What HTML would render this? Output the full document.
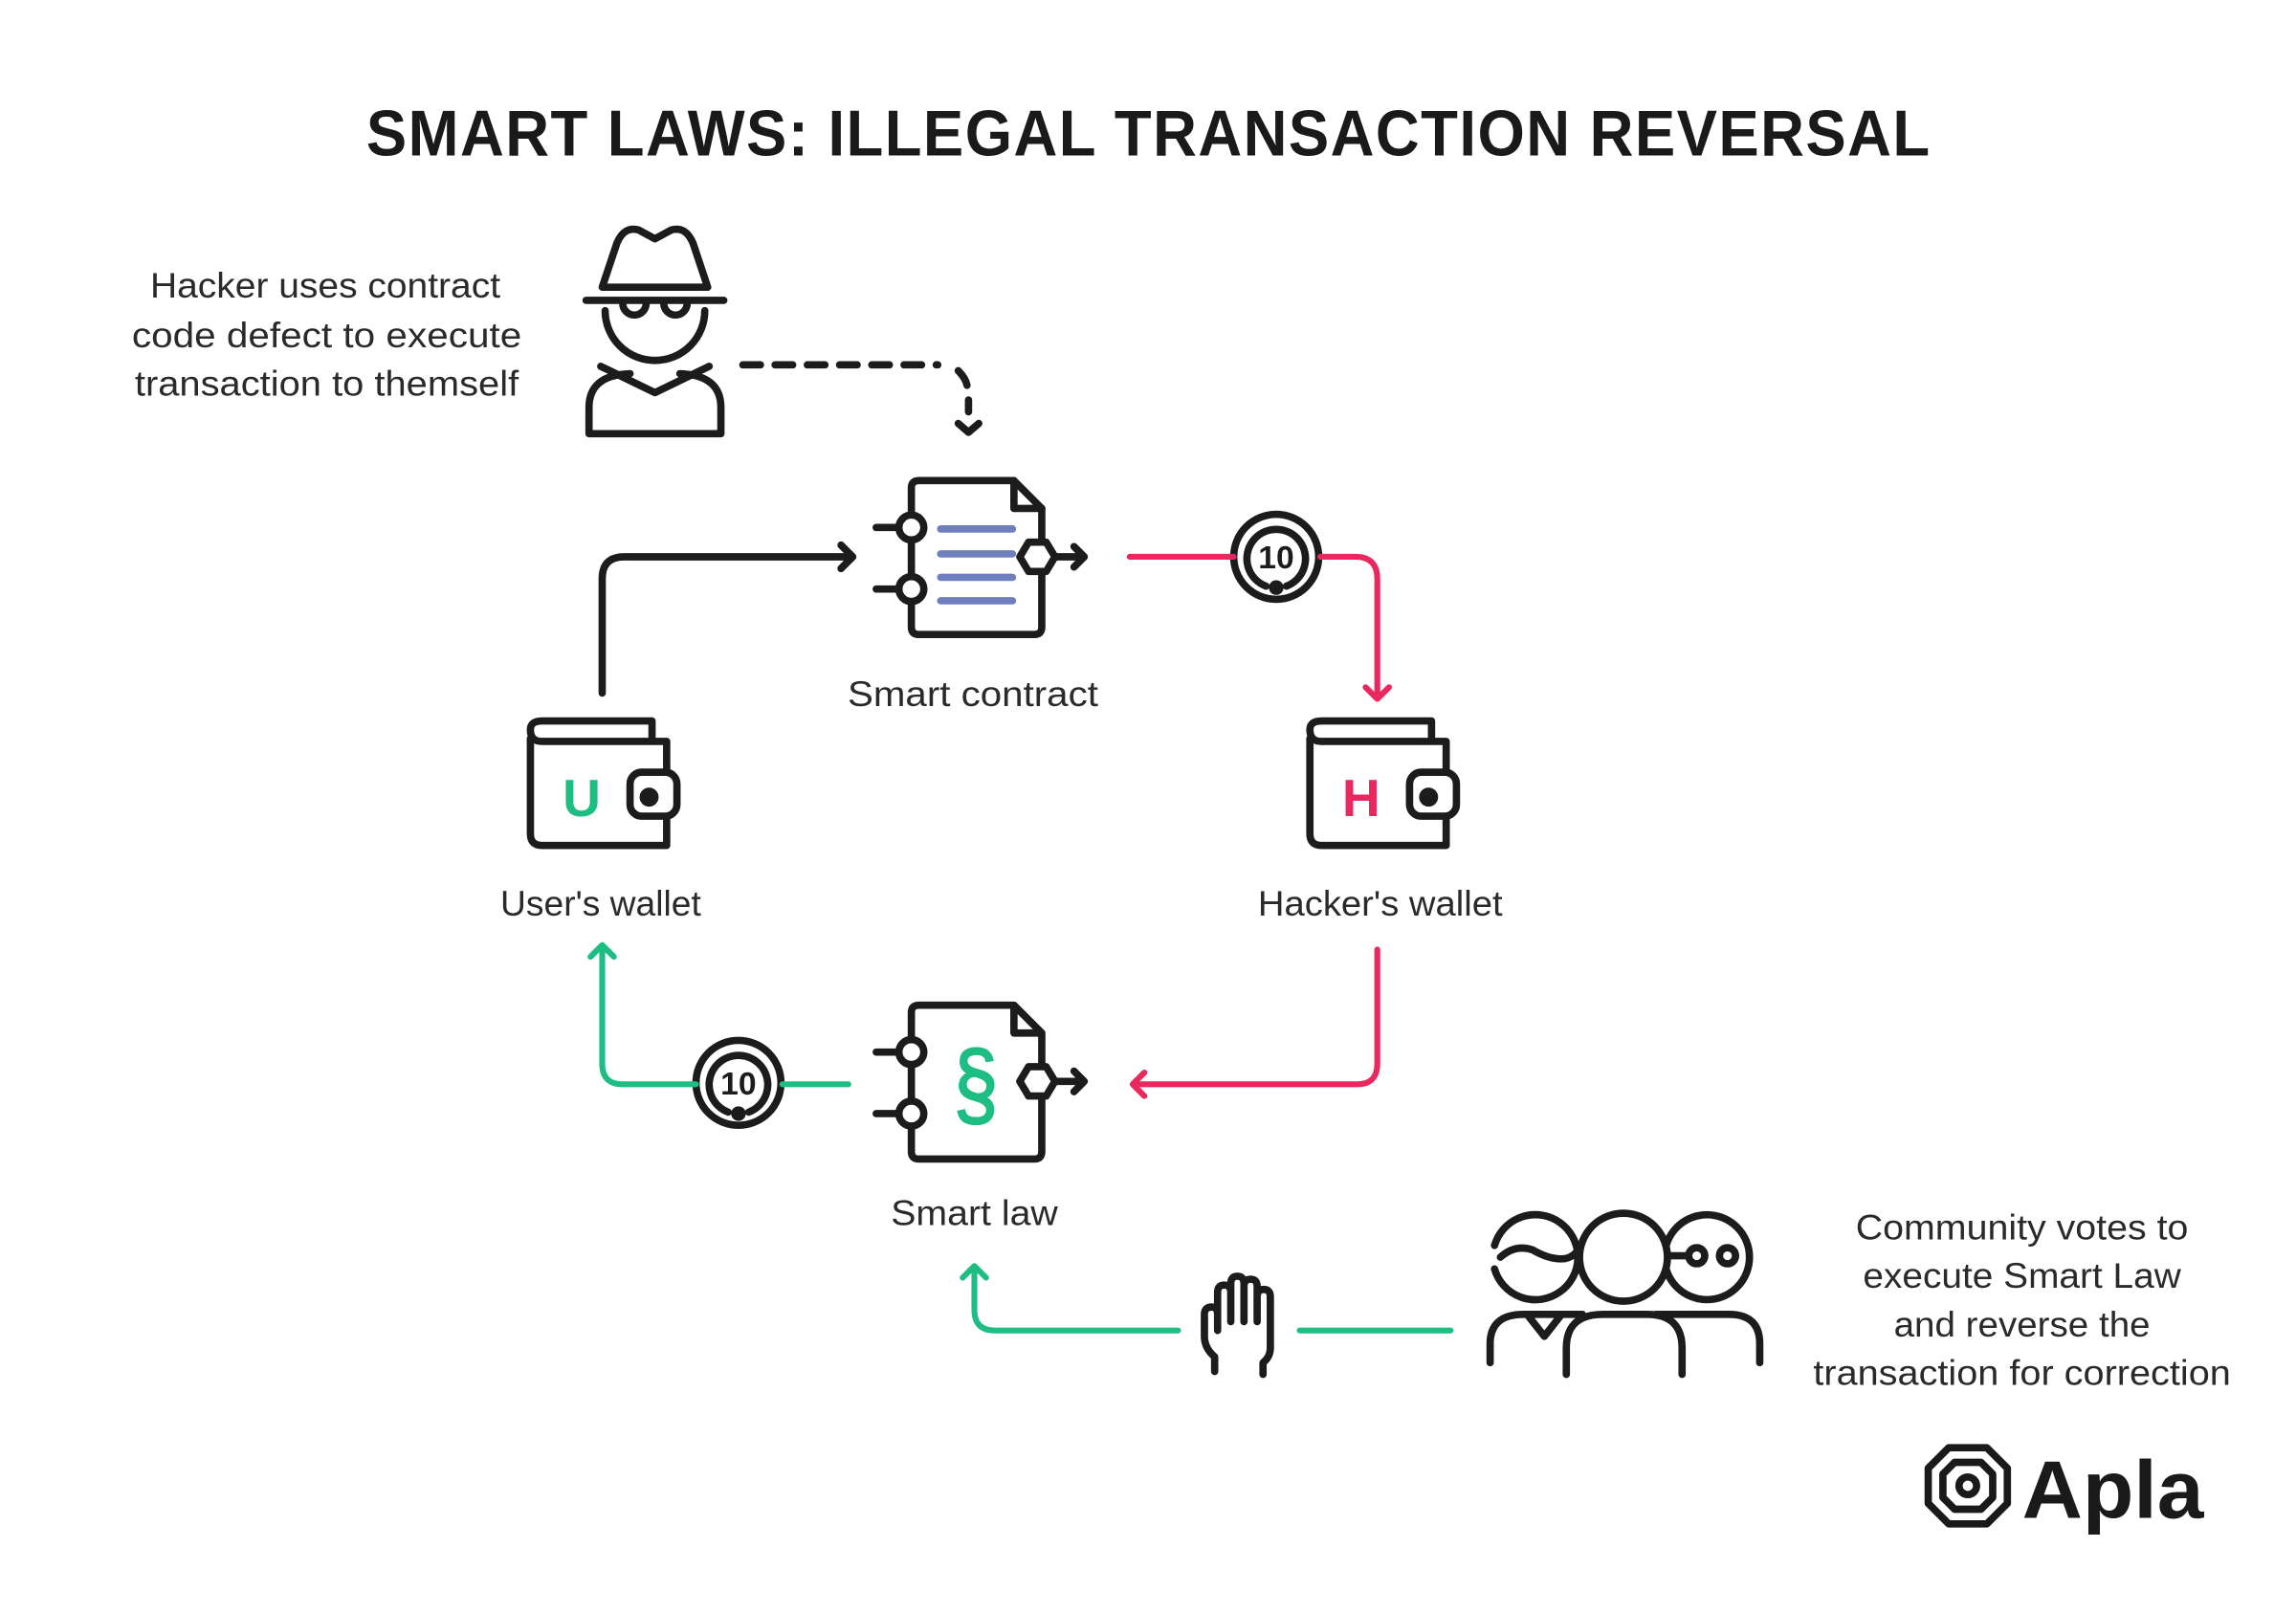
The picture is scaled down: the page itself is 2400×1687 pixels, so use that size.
<!DOCTYPE html>
<html><head><meta charset="utf-8"><style>
html,body{margin:0;padding:0;background:#fff}
svg{display:block}
text{font-family:"Liberation Sans",sans-serif}
</style></head><body>
<svg width="2400" height="1687" viewBox="0 0 1567 1101.5" preserveAspectRatio="none" xmlns="http://www.w3.org/2000/svg">
<rect width="1567" height="1102" fill="#fff"/>
<text x="784" y="106" text-anchor="middle" font-size="44" font-weight="bold" fill="#1a1a1a" textLength="1068" lengthAdjust="spacingAndGlyphs" letter-spacing="1">SMART LAWS: ILLEGAL TRANSACTION REVERSAL</text>

<g font-size="24" fill="#2a2a2a" text-anchor="middle">
<text x="222" y="203" textLength="239" lengthAdjust="spacingAndGlyphs">Hacker uses contract</text>
<text x="223" y="237" textLength="266" lengthAdjust="spacingAndGlyphs">code defect to execute</text>
<text x="223" y="270" textLength="262" lengthAdjust="spacingAndGlyphs">transaction to themself</text>
<text x="664" y="482" textLength="171" lengthAdjust="spacingAndGlyphs">Smart contract</text>
<text x="410" y="625" textLength="137" lengthAdjust="spacingAndGlyphs">User's wallet</text>
<text x="942" y="625" textLength="167" lengthAdjust="spacingAndGlyphs">Hacker's wallet</text>
<text x="665" y="836" textLength="114" lengthAdjust="spacingAndGlyphs">Smart law</text>
<text x="1380" y="846" textLength="227" lengthAdjust="spacingAndGlyphs">Community votes to</text>
<text x="1380" y="879" textLength="217" lengthAdjust="spacingAndGlyphs">execute Smart Law</text>
<text x="1380" y="912" textLength="175" lengthAdjust="spacingAndGlyphs">and reverse the</text>
<text x="1380" y="945" textLength="285" lengthAdjust="spacingAndGlyphs">transaction for correction</text>
</g>

<g fill="none" stroke="#1c1c1c" stroke-width="5" stroke-linecap="round" stroke-linejoin="round">
<path d="M411 196 L421 166 Q426 154 436 157 L447 163 L458 157 Q468 154 473 166 L483 196 Z"/>
<line x1="400" y1="205" x2="494" y2="205"/>
<path d="M425 207 a8 8 0 0 0 16 0 M453 207 a8 8 0 0 0 16 0"/>
<path d="M413 212 a34 34 0 0 0 68 0"/>
<path d="M410 250 L447 268 L484 250"/>
<path d="M402 296 L402 278 Q402 256 430 255 M492 296 L492 278 Q492 256 464 255 M402 296 L492 296"/>
<path d="M507 249 L640 249" stroke-dasharray="12 10"/>
<path d="M654 253 Q659 258 660 263"/>
<path d="M661 273 L661 281 M654 289 L661 295 L668 289"/>

<g id="doc">
<path d="M622 411 L622 428 Q622 433 627 433 L706 433 Q711 433 711 428 L711 392 M711 368 L711 347 L692 328 L627 328 Q622 328 622 333 L622 351 M622 369 L622 393"/>
<path d="M692 328 L692 347 L711 347"/>
<line x1="598" y1="360" x2="613" y2="360"/>
<line x1="598" y1="402" x2="613" y2="402"/>
<circle cx="622" cy="360" r="8.5"/>
<circle cx="622" cy="402" r="8.5"/>
<path d="M702 370 L714 370 L720 380 L714 390 L702 390 L696 380 Z" fill="#fff"/>
<path d="M721 380 L740 380 M733 373 L740 380 L733 387"/>
</g>
<use href="#doc" y="358"/>
<g id="wal">
<path d="M362 504 L362 569 Q362 577 370 577 L455 577 L455 558 M455 527 L455 506 L370 506 Q362 506 362 498 Q362 492 370 492 L445 492 L445 504"/>
<rect x="430" y="527" width="32" height="30" rx="8"/>
<circle cx="443" cy="544" r="4" fill="#1c1c1c"/>
</g>
<use href="#wal" x="532"/>
<path d="M411 473 L411 395 Q411 380 426 380 L582 380 M574 372 L582 380 L574 388"/>
<g id="coin">
<circle cx="871" cy="380" r="29"/>
<path d="M864 400 A20 20 0 1 1 878 400"/>
<circle cx="871" cy="401" r="2.5"/>
<text x="871" y="388" font-size="22" font-weight="bold" text-anchor="middle" fill="#1c1c1c" stroke="none">10</text>
</g>
<use href="#coin" x="-367" y="359"/>
<path d="M829 936 L829 926 Q822 920 822 912 L822 897 Q822 892 827 892 Q831 892 831 897 L831 908 M831 901 L831 882 Q831 877 835.5 877 Q840 877 840 882 L840 902 M840 882 L840 876 Q840 871 844.5 871 Q849 871 849 876 L849 902 M849 878 Q849 873 853.5 873 Q858 873 858 878 L858 902 M858 885 Q858 880 862.5 880 Q867 880 867 885 L867 920 Q867 926 862 930 L862 938"/>
<path d="M1020 850 A29 29 0 1 1 1020 866"/>
<path d="M1024 858 Q1034 849 1046 853 Q1058 860 1068 859 Q1074 858 1078 852"/>
<circle cx="1165" cy="858" r="29"/>
<path d="M1138 857 L1152 857"/>
<circle cx="1158" cy="857" r="5.5"/><circle cx="1179" cy="857" r="5.5"/>
<circle cx="1108" cy="858" r="30" fill="#fff"/>
<path d="M1017 930 L1017 917 Q1017 897 1040 897 L1080 897 M1043 898 L1054 912 L1065 898"/>
<path d="M1130 897 L1180 897 Q1201 897 1201 917 L1201 930"/>
<path d="M1069 938 L1069 920 Q1069 897 1094 897 L1124 897 Q1148 897 1148 920 L1148 938" fill="#fff"/>
</g>
<g stroke="#6f7fbd" stroke-width="5" stroke-linecap="round">
<line x1="642" y1="361" x2="691" y2="361"/>
<line x1="642" y1="378" x2="691" y2="378"/>
<line x1="642" y1="394" x2="691" y2="394"/>
<line x1="642" y1="410" x2="691" y2="410"/>
</g>
<text x="666" y="762" font-size="64" text-anchor="middle" fill="#1dbd83" stroke="#1dbd83" stroke-width="1.5" transform="translate(666 740) scale(0.85 1) translate(-666 -740)">§</text>
<text x="397" y="557" font-size="36" text-anchor="middle" fill="#1dbd83" font-weight="bold">U</text>
<text x="929" y="557" font-size="36" text-anchor="middle" fill="#e9285f" font-weight="bold">H</text>
<g fill="none" stroke="#e9285f" stroke-width="4" stroke-linecap="round" stroke-linejoin="round">
<path d="M771 380 L842 380 M901 380 L925 380 Q940 380 940 395 L940 477 M932 469 L940 477 L948 469"/>
<path d="M940 648 L940 726 Q940 740 926 740 L773 740 M781 732 L773 740 L781 748"/>
</g>
<g fill="none" stroke="#1dbd83" stroke-width="4" stroke-linecap="round" stroke-linejoin="round">
<path d="M579 740 L534 740 M475 740 L425 740 Q411 740 411 726 L411 645 M403 653 L411 645 L419 653"/>
<path d="M990 908 L887 908 M804 908 L679 908 Q665 908 665 894 L665 864 M657 872 L665 864 L673 872"/>
</g>
<g fill="none" stroke="#1a1a1a" stroke-width="5" stroke-linejoin="round">
<path d="M1330 988 L1356 988 L1370 1002 L1370 1026 L1356 1040 L1330 1040 L1316 1026 L1316 1002 Z"/>
<path d="M1334 998 L1352 998 L1360 1006 L1360 1022 L1352 1030 L1334 1030 L1326 1022 L1326 1006 Z"/>
<circle cx="1343" cy="1014" r="6"/>
</g>
<text x="1380" y="1036" font-size="56" font-weight="bold" fill="#1a1a1a" textLength="124" lengthAdjust="spacingAndGlyphs">Apla</text>
</svg>
</body></html>
